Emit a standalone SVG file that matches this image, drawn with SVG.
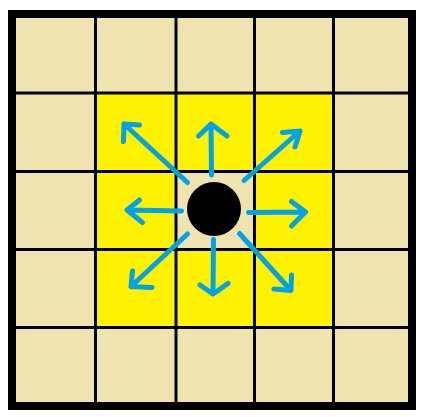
<svg xmlns="http://www.w3.org/2000/svg" width="426" height="417" viewBox="0 0 426 417">
<style>
.grid{stroke:#000;stroke-width:3;fill:none}
.arr{stroke:#00A2E8;stroke-width:5;stroke-linecap:round;stroke-linejoin:round;fill:none}
</style>
<rect width="426" height="417" fill="#fff"/>
<g id="board">
<rect x="12" y="14" width="400" height="392" fill="#EFE4B0"/>
<rect x="95.5" y="93" width="238" height="234.5" fill="#FFF200"/>
<rect x="176" y="171.5" width="78.5" height="78" fill="#EFE4B0"/>
<g class="grid">
<line x1="95.5" y1="14" x2="95.5" y2="406"/>
<line x1="176" y1="14" x2="176" y2="406"/>
<line x1="254.5" y1="14" x2="254.5" y2="406"/>
<line x1="333.5" y1="14" x2="333.5" y2="406"/>
<line x1="12" y1="93" x2="412" y2="93"/>
<line x1="12" y1="171.5" x2="412" y2="171.5"/>
<line x1="12" y1="249.5" x2="412" y2="249.5"/>
<line x1="12" y1="327.5" x2="412" y2="327.5"/>
</g>
<rect x="12" y="14" width="400" height="392" fill="none" stroke="#000" stroke-width="8"/>
</g>
<g id="piece"><circle cx="214" cy="209" r="27" fill="#000"/></g>
<g id="connectors" class="arr">
<path d="M211.5 175 L211 124 M198.5 136 L211 124 L227 136"/>
<path d="M187.5 182.5 L124 124 M139.5 125 L124 124 L123.5 141.5"/>
<path d="M244 180.5 L300 131 M282.5 132.5 L300 131 L295 147"/>
<path d="M181.5 211 L127 210 M139.5 200 L127 210 L142.5 222.5"/>
<path d="M248.5 212.5 L305.5 212 M291.5 201.5 L305.5 212 L291.5 226"/>
<path d="M187.5 234 L131 286.5 M132.5 271 L131 286.5 L152 287.5"/>
<path d="M213.5 239.5 L213 294 M200 285 L213 294 L228 283.5"/>
<path d="M239.5 233.5 L291 290.5 M291.5 275 L291 290.5 L274 289"/>
</g>
</svg>
